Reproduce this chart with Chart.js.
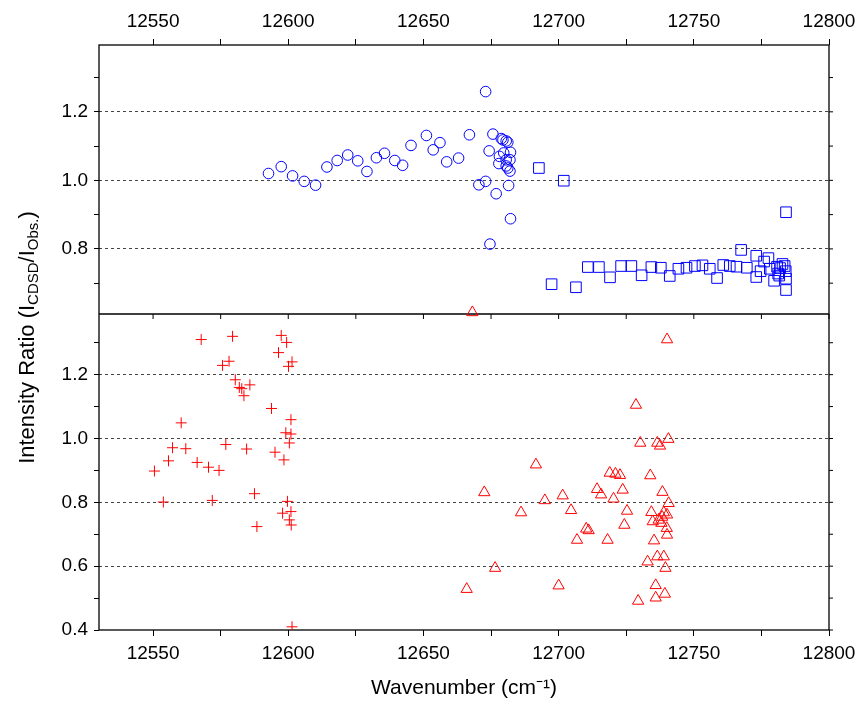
<!DOCTYPE html>
<html>
<head>
<meta charset="utf-8">
<script src="https://cdn.jsdelivr.net/npm/chart.js@4/dist/chart.umd.min.js"></script>
<style>
  body { margin: 0; background: #fff; }
  #wrap { width: 862px; height: 706px; }
</style>
</head>
<body>
<div id="wrap"><canvas id="myChart" width="862" height="706"></canvas></div>
<script>
// top panel, blue circles
const circleWn = [12592.7, 12597.4, 12601.6, 12605.9, 12610.1, 12614.3, 12618.1, 12622.0, 12625.7, 12629.1,
  12632.6, 12635.6, 12639.4, 12642.3, 12645.4, 12651.1, 12653.6, 12656.1, 12658.6, 12663.0,
  12667.0, 12673.0, 12670.5, 12673.0, 12674.3, 12675.7, 12676.9, 12678.8, 12679.4, 12680.6,
  12681.2, 12679.7, 12682.2, 12678.1, 12677.9, 12680.6, 12682.0, 12680.6, 12681.2, 12682.0,
  12681.5, 12682.2, 12674.6];
const circleRatio = [1.020, 1.040, 1.013, 0.997, 0.986, 1.039, 1.058, 1.074, 1.057, 1.026,
  1.066, 1.079, 1.058, 1.044, 1.102, 1.131, 1.089, 1.110, 1.054, 1.065,
  1.133, 1.259, 0.987, 0.997, 1.086, 1.135, 0.961, 1.122, 1.118, 1.115,
  1.111, 1.080, 1.082, 1.070, 1.049, 1.060, 1.060, 1.042, 1.036, 1.027,
  0.985, 0.888, 0.814];

// top panel, blue squares
const squareWn = [12692.7, 12701.9, 12784.1, 12697.4, 12706.4, 12710.8, 12714.9, 12719.0, 12723.1, 12726.9,
  12730.7, 12734.3, 12737.8, 12741.1, 12744.3, 12747.3, 12750.4, 12753.2, 12755.9, 12758.6,
  12760.9, 12763.3, 12765.8, 12767.5, 12769.6, 12773.1, 12773.1, 12774.7, 12776.0, 12777.6,
  12778.1, 12779.7, 12780.8, 12781.2, 12781.9, 12782.8, 12783.6, 12784.0, 12784.1, 12784.1,
  12781.6];
const squareRatio = [1.036, 0.999, 0.907, 0.697, 0.688, 0.747, 0.747, 0.717, 0.750, 0.750,
  0.723, 0.747, 0.745, 0.721, 0.742, 0.745, 0.750, 0.752, 0.742, 0.715,
  0.753, 0.750, 0.748, 0.797, 0.745, 0.780, 0.718, 0.735, 0.763, 0.773,
  0.742, 0.707, 0.748, 0.728, 0.744, 0.756, 0.750, 0.735, 0.713, 0.680,
  0.722];

// bottom panel, red crosses
const crossWn = [12567.8, 12579.4, 12597.4, 12599.4, 12596.4, 12578.1, 12575.7, 12601.4, 12600.1, 12580.4,
  12581.9, 12582.8, 12585.8, 12583.6, 12593.8, 12560.4, 12601.0, 12599.1, 12601.0, 12600.4,
  12557.2, 12562.1, 12576.9, 12584.6, 12595.1, 12555.7, 12566.3, 12570.5, 12574.4, 12598.4,
  12550.5, 12553.8, 12571.9, 12587.5, 12599.7, 12597.9, 12601.0, 12600.4, 12601.1, 12588.4,
  12601.4];
const crossRatio = [1.310, 1.320, 1.323, 1.301, 1.269, 1.242, 1.229, 1.240, 1.226, 1.184,
  1.160, 1.156, 1.168, 1.134, 1.094, 1.049, 1.059, 1.018, 1.014, 0.986,
  0.971, 0.968, 0.981, 0.967, 0.957, 0.930, 0.925, 0.910, 0.900, 0.933,
  0.898, 0.801, 0.806, 0.827, 0.803, 0.766, 0.771, 0.745, 0.729, 0.724,
  0.410];

// bottom panel, red triangles
const triWn = [12668.1, 12691.6, 12672.5, 12694.9, 12701.5, 12686.1, 12704.6, 12710.2, 12711.1, 12706.8,
  12676.5, 12700.0, 12666.0, 12740.1, 12728.6, 12730.2, 12736.5, 12737.5, 12740.6, 12718.9,
  12721.0, 12722.7, 12733.9, 12714.2, 12715.7, 12723.7, 12720.3, 12738.4, 12740.7, 12725.3,
  12734.3, 12738.9, 12740.1, 12738.3, 12734.8, 12737.0, 12738.0, 12724.3, 12740.0, 12740.1,
  12718.1, 12735.3, 12732.9, 12736.5, 12738.9, 12739.5, 12735.9, 12729.4, 12735.9, 12739.3];
const triRatio = [1.395, 0.918, 0.831, 0.806, 0.821, 0.768, 0.775, 0.717, 0.712, 0.682,
  0.594, 0.539, 0.528, 1.310, 1.105, 0.986, 0.986, 0.977, 0.998, 0.892,
  0.889, 0.885, 0.884, 0.841, 0.824, 0.839, 0.811, 0.832, 0.797, 0.773,
  0.769, 0.768, 0.761, 0.754, 0.740, 0.745, 0.735, 0.729, 0.719, 0.698,
  0.682, 0.680, 0.614, 0.630, 0.630, 0.594, 0.540, 0.491, 0.501, 0.513];

const xTickLabels = [12550, 12600, 12650, 12700, 12750, 12800];
const topLabels = [0.8, 1.0, 1.2];
const bottomLabels = [0.4, 0.6, 0.8, 1.0, 1.2];

const BLUE = 'rgb(0,0,255)';
const RED = 'rgb(255,0,0)';
const FONT = 'Arial, "Liberation Sans", sans-serif';

function pts(xs, ys) {
  return xs.map((x, i) => ({ x: x, y: ys[i] }));
}

function hasVal(list, v) {
  return list.some(t => Math.abs(t - v) < 1e-6);
}

// frame, divider and the extra tick marks on divider / right side
const framePlugin = {
  id: 'frame',
  beforeDatasetsDraw(chart) {
    const { ctx, chartArea: a, scales } = chart;
    const mid = scales.yTop.bottom;
    ctx.save();
    ctx.strokeStyle = '#000';
    ctx.lineWidth = 1.3;
    ctx.strokeRect(a.left, a.top, a.right - a.left, a.bottom - a.top);
    ctx.beginPath();
    ctx.moveTo(a.left, mid);
    ctx.lineTo(a.right, mid);
    ctx.stroke();
    ctx.lineWidth = 1;
    ctx.beginPath();
    scales.x.ticks.forEach(t => {
      const px = scales.x.getPixelForValue(t.value);
      ctx.moveTo(px, mid);
      ctx.lineTo(px, mid + 5);
    });
    ['yTop', 'yBot'].forEach(id => {
      scales[id].ticks.forEach(t => {
        const py = scales[id].getPixelForValue(t.value);
        ctx.moveTo(a.right, py);
        ctx.lineTo(a.right + 4, py);
      });
    });
    ctx.stroke();
    ctx.restore();
  }
};

// y axis title with subscripts
const yTitlePlugin = {
  id: 'yTitle',
  afterDraw(chart) {
    const { ctx, chartArea: a } = chart;
    const big = '22px ' + FONT;
    const small = '15px ' + FONT;
    const parts = [
      ['Intensity Ratio (I', big, 0],
      ['CDSD', small, 6],
      ['/I', big, 0],
      ['Obs.', small, 6],
      [')', big, 0]
    ];
    ctx.save();
    let total = 0;
    parts.forEach(p => { ctx.font = p[1]; total += ctx.measureText(p[0]).width; });
    ctx.translate(28, (a.top + a.bottom) / 2);
    ctx.rotate(-Math.PI / 2);
    ctx.fillStyle = '#000';
    ctx.textBaseline = 'middle';
    let x = -total / 2;
    parts.forEach(p => {
      ctx.font = p[1];
      ctx.fillText(p[0], x, p[2]);
      x += ctx.measureText(p[0]).width;
    });
    ctx.restore();
  }
};

const data = {
  datasets: [
    {
      label: 'circles',
      data: pts(circleWn, circleRatio),
      yAxisID: 'yTop',
      pointStyle: 'circle',
      pointRadius: 5.3,
      borderColor: BLUE,
      backgroundColor: 'transparent',
      borderWidth: 1
    },
    {
      label: 'squares',
      data: pts(squareWn, squareRatio),
      yAxisID: 'yTop',
      pointStyle: 'rect',
      pointRadius: 7.5,
      borderColor: BLUE,
      backgroundColor: 'transparent',
      borderWidth: 1
    },
    {
      label: 'crosses',
      data: pts(crossWn, crossRatio),
      yAxisID: 'yBot',
      pointStyle: 'cross',
      pointRadius: 5.5,
      borderColor: RED,
      backgroundColor: 'transparent',
      borderWidth: 1
    },
    {
      label: 'triangles',
      data: pts(triWn, triRatio),
      yAxisID: 'yBot',
      pointStyle: 'triangle',
      pointRadius: 6.5,
      borderColor: RED,
      backgroundColor: 'transparent',
      borderWidth: 1,
      clip: false
    }
  ]
};

const tickFont = { family: FONT, size: 19 };

function xAxis(pos, h, withTitle) {
  return {
    type: 'linear',
    position: pos,
    min: 12530,
    max: 12800,
    afterFit: s => { s.height = h; },
    ticks: {
      stepSize: 25,
      includeBounds: false,
      autoSkip: false,
      maxRotation: 0,
      color: '#000',
      font: tickFont,
      padding: pos === 'top' ? 6 : 6,
      callback: v => hasVal(xTickLabels, v) ? String(v) : ''
    },
    grid: { drawOnChartArea: false, tickLength: 6, tickColor: '#000' },
    border: { display: false },
    title: {
      display: withTitle,
      text: 'Wavenumber (cm⁻¹)',
      color: '#000',
      font: { family: FONT, size: 21 },
      padding: { top: 0, bottom: 5 }
    }
  };
}

function yAxis(min, max, weight, labels) {
  return {
    type: 'linear',
    position: 'left',
    stack: 'panels',
    stackWeight: weight,
    min: min,
    max: max,
    afterFit: s => { s.width = 99; },
    ticks: {
      stepSize: 0.1,
      includeBounds: false,
      autoSkip: false,
      color: '#000',
      font: tickFont,
      padding: 6,
      callback: v => hasVal(labels, v) ? v.toFixed(1) : ''
    },
    grid: {
      color: c => (c.tick && hasVal(labels, c.tick.value) && Math.abs(c.tick.value - 0.4) > 1e-6) ? '#444' : 'transparent',
      lineWidth: 1,
      tickLength: 5,
      tickColor: '#000'
    },
    border: { display: false, dash: [3, 3] }
  };
}

const config = {
  type: 'scatter',
  data: data,
  options: {
    responsive: false,
    animation: false,
    events: [],
    layout: { padding: { left: 0, right: 33, top: 0, bottom: 0 } },
    plugins: {
      legend: { display: false },
      tooltip: { enabled: false }
    },
    scales: {
      x: xAxis('bottom', 76, true),
      x2: xAxis('top', 45, false),
      yBot: yAxis(0.4, 1.39, 316, bottomLabels),
      yTop: yAxis(0.61, 1.395, 269, topLabels)
    }
  },
  plugins: [framePlugin, yTitlePlugin]
};

new Chart(document.getElementById('myChart'), config);
</script>
</body>
</html>
